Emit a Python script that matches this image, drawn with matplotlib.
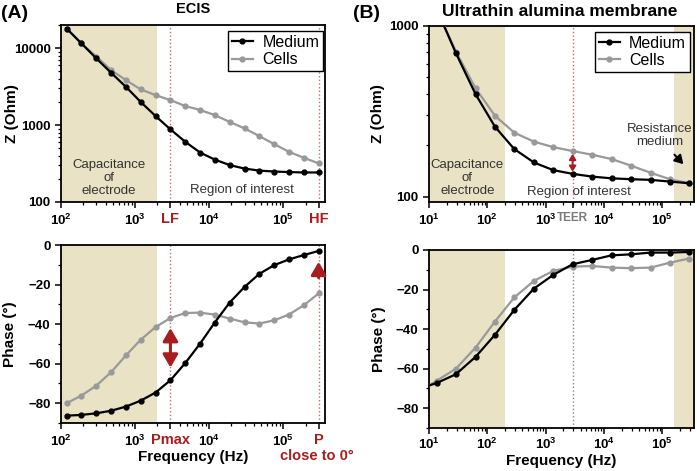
import matplotlib
matplotlib.use('Agg')
import matplotlib.pyplot as plt
from matplotlib.ticker import LogLocator, NullFormatter, MultipleLocator

plt.rcParams['font.family'] = ['Liberation Sans', 'DejaVu Sans']
plt.rcParams['mathtext.fontset'] = 'custom'
plt.rcParams['mathtext.rm'] = 'Liberation Sans:bold'
plt.rcParams['mathtext.bf'] = 'Liberation Sans:bold'

# ---- data: panel A (ECIS) ----
freq_a = [119, 189, 300, 475, 753, 1190, 1890, 3000, 4750, 7530,
          11900, 18900, 30000, 47500, 75300, 119000, 189000, 300000]
z_med_a = [18000, 11500, 7350, 4780, 3140, 2000, 1310, 880, 607, 440,
           356, 302, 272, 256, 249, 245, 242, 242]
z_cell_a = [18000, 11500, 7770, 5180, 3840, 2910, 2450, 2110, 1770, 1570,
            1350, 1100, 906, 720, 566, 450, 376, 318]
ph_med_a = [-86.3, -85.9, -85.1, -83.8, -81.7, -78.7, -74.6, -68.4, -59.7, -49.9,
            -39.2, -29.1, -21.2, -14.6, -10.2, -7.3, -5.1, -3.0]
ph_cell_a = [-80.0, -76.1, -71.1, -64.3, -55.8, -47.9, -41.5, -36.9, -34.4, -34.2,
             -35.2, -37.2, -39.1, -39.7, -38.1, -35.2, -30.5, -24.5]

# ---- data: panel B (ultrathin alumina membrane) ----
freq_b = [6.3, 13.5, 29, 63, 135, 290, 630, 1350, 2900, 6300,
          13500, 29000, 63000, 135000, 290000]
z_med_b = [2300, 1260, 692, 398, 257, 190, 158.5, 143, 136, 131,
           128, 126.5, 125.4, 122.5, 119.8]
z_cell_b = [2300, 1260, 707, 431, 298, 237, 210, 195, 185, 176,
            166, 152, 138, 126.5, 119.8]
ph_med_b = [-70.4, -67.3, -62.8, -54.0, -42.9, -30.3, -19.5, -12.6, -7.2, -5.0,
            -2.7, -2.2, -1.3, -1.3, -1.0]
ph_cell_b = [-72.3, -66.1, -60.0, -49.3, -36.2, -24.0, -15.6, -10.6, -8.4, -8.1,
             -8.9, -9.2, -8.9, -6.4, -4.3]

BEIGE = '#e9e2c4'
RED = '#a81e1e'
DOT = '#c86c6c'
GRAY = '#999999'

W, H = 697, 471
fig = plt.figure(figsize=(W / 100, H / 100), dpi=100)


def box(l, t, r, b):
    return [l / W, 1 - b / H, (r - l) / W, (b - t) / H]


def style(ax):
    for s in ax.spines.values():
        s.set_linewidth(1.3)
    ax.tick_params(which='major', direction='out', length=4, width=1.1, labelsize=9.5)
    ax.tick_params(which='minor', direction='out', length=2.5, width=0.9)
    for lab in ax.get_yticklabels() + ax.get_xticklabels():
        lab.set_fontweight('bold')


def curves(ax, f, y1, y2):
    ax.plot(f, y2, '-o', color=GRAY, lw=1.6, ms=3.5, label='Cells', zorder=3)
    ax.plot(f, y1, '-o', color='black', lw=1.6, ms=3.5, label='Medium', zorder=4)


def xlog(ax, lo, hi, ticks, labels):
    ax.set_xscale('log')
    ax.set_xlim(lo, hi)
    ax.set_xticks(ticks)
    ax.set_xticklabels(labels)
    ax.xaxis.set_minor_locator(LogLocator(base=10, subs=range(2, 10)))
    ax.xaxis.set_minor_formatter(NullFormatter())


def legend(ax, anchor):
    h, l = ax.get_legend_handles_labels()
    leg = ax.legend(h[::-1], l[::-1], loc='upper right', fontsize=11.5, fancybox=False,
                    edgecolor='black', framealpha=1, borderpad=0.25, handlelength=1.3,
                    handletextpad=0.6, labelspacing=0.15, borderaxespad=0,
                    bbox_to_anchor=anchor)
    leg.get_frame().set_linewidth(1.0)


def arrow(ax, start, end, style, color, lw, ms):
    ax.annotate('', xy=end, xytext=start,
                arrowprops=dict(arrowstyle=style, color=color, lw=lw, mutation_scale=ms,
                                shrinkA=0, shrinkB=0))


# ---------- A top ----------
ax = fig.add_axes(box(61, 25, 325, 202))
ax.axvspan(50, 2000, color=BEIGE, lw=0, zorder=0)
ax.axvline(3000, color=DOT, ls=':', lw=1)
ax.axvline(300000, color=DOT, ls=':', lw=1)
curves(ax, freq_a, z_med_a, z_cell_a)
xlog(ax, 100, 3.66e5, [100, 1000, 3000, 1e4, 1e5, 3e5],
     ['$10^2$', '$10^3$', 'LF', '$10^4$', '$10^5$', 'HF'])
ax.set_yscale('log')
ax.set_ylim(100, 20000)
ax.set_yticks([100, 1000, 10000])
ax.set_yticklabels(['100', '1000', '10000'])
ax.yaxis.set_minor_locator(LogLocator(base=10, subs=range(2, 10)))
ax.yaxis.set_minor_formatter(NullFormatter())
ax.set_ylabel('Z (Ohm)', fontsize=11, fontweight='bold')
ax.yaxis.set_label_coords(-0.16, 0.5)
style(ax)
for i in (2, 5):
    ax.get_xticklabels()[i].set_color(RED)
    ax.get_xticklabels()[i].set_fontsize(10.5)
ax.text(0.182, 0.136, 'Capacitance\nof\nelectrode', transform=ax.transAxes,
        ha='center', va='center', fontsize=9.5, color='#333333', linespacing=1.1)
ax.text(0.686, 0.068, 'Region of interest', transform=ax.transAxes,
        ha='center', va='center', fontsize=9.5, color='#333333')
legend(ax, (0.993, 0.966))

# ---------- A bottom ----------
ax = fig.add_axes(box(61, 245, 325, 423))
ax.axvspan(50, 2000, color=BEIGE, lw=0, zorder=0)
ax.axvline(3000, color=DOT, ls=':', lw=1)
ax.axvline(300000, color=DOT, ls=':', lw=1)
curves(ax, freq_a, ph_med_a, ph_cell_a)
xlog(ax, 100, 3.66e5, [100, 1000, 3000, 1e4, 1e5, 3e5],
     ['$10^2$', '$10^3$', 'Pmax', '$10^4$', '$10^5$', 'P'])
ax.set_ylim(-90, 0)
ax.set_yticks([0, -20, -40, -60, -80])
ax.yaxis.set_minor_locator(MultipleLocator(10))
ax.set_ylabel('Phase (°)', fontsize=11, fontweight='bold')
ax.yaxis.set_label_coords(-0.165, 0.5)
ax.set_xlabel('Frequency (Hz)', fontsize=11, fontweight='bold')
ax.xaxis.set_label_coords(0.5, -0.15)
style(ax)
for i in (2, 5):
    ax.get_xticklabels()[i].set_color(RED)
    ax.get_xticklabels()[i].set_fontsize(10.5)
ax.text(0.97, -0.185, 'close to 0°', transform=ax.transAxes, ha='center', va='center',
        fontsize=10.5, fontweight='bold', color=RED)
arrow(ax, (3000, -42), (3000, -62), '<|-|>,head_length=0.6,head_width=0.35', RED, 2.2, 13)
arrow(ax, (300000, -16.5), (300000, -8.5), '-|>,head_length=0.6,head_width=0.35', RED, 2.2, 13)

# ---------- B top ----------
ax = fig.add_axes(box(429, 26, 694, 202))
ax.axvspan(1, 200, color=BEIGE, lw=0, zorder=0)
ax.axvspan(1.62e5, 1e6, color=BEIGE, lw=0, zorder=0)
ax.axvline(2900, color=DOT, ls=':', lw=1)
curves(ax, freq_b, z_med_b, z_cell_b)
xlog(ax, 10, 3.5e5, [10, 100, 1000, 2900, 1e4, 1e5],
     ['$10^1$', '$10^2$', '$10^3$', 'TEER', '$10^4$', '$10^5$'])
ax.set_yscale('log')
ax.set_ylim(93, 1000)
ax.set_yticks([100, 1000])
ax.set_yticklabels(['100', '1000'])
ax.yaxis.set_minor_locator(LogLocator(base=10, subs=range(2, 10)))
ax.yaxis.set_minor_formatter(NullFormatter())
ax.set_ylabel('Z (Ohm)', fontsize=11, fontweight='bold')
ax.yaxis.set_label_coords(-0.166, 0.5)
style(ax)
teer = ax.get_xticklabels()[3]
teer.set_color('#7a7a7a')
teer.set_fontsize(8.5)
ax.text(0.1445, 0.136, 'Capacitance\nof\nelectrode', transform=ax.transAxes,
        ha='center', va='center', fontsize=9.5, color='#333333', linespacing=1.1)
ax.text(0.566, 0.059, 'Region of interest', transform=ax.transAxes,
        ha='center', va='center', fontsize=9.5, color='#333333')
ax.text(0.872, 0.38, 'Resistance\nmedium', transform=ax.transAxes,
        ha='center', va='center', fontsize=9.5, color='#333333', linespacing=1.1)
arrow(ax, (1.62e5, 176), (2.3e5, 155), '-|>,head_length=0.5,head_width=0.3', 'black', 1.5, 10)
arrow(ax, (2900, 178), (2900, 140), '<|-|>,head_length=0.4,head_width=0.25', RED, 1.4, 8)
legend(ax, (0.985, 0.968))

# ---------- B bottom ----------
ax = fig.add_axes(box(429, 250, 694, 428))
ax.axvspan(1, 200, color=BEIGE, lw=0, zorder=0)
ax.axvspan(1.62e5, 1e6, color=BEIGE, lw=0, zorder=0)
ax.axvline(2900, color='#888888', ls=':', lw=1)
curves(ax, freq_b, ph_med_b, ph_cell_b)
xlog(ax, 10, 3.5e5, [10, 100, 1000, 1e4, 1e5],
     ['$10^1$', '$10^2$', '$10^3$', '$10^4$', '$10^5$'])
ax.set_ylim(-90, 0)
ax.set_yticks([0, -20, -40, -60, -80])
ax.yaxis.set_minor_locator(MultipleLocator(10))
ax.set_ylabel('Phase (°)', fontsize=11, fontweight='bold')
ax.yaxis.set_label_coords(-0.162, 0.5)
ax.set_xlabel('Frequency (Hz)', fontsize=11, fontweight='bold')
ax.xaxis.set_label_coords(0.5, -0.145)
style(ax)
ax.tick_params(axis='x', which='major', pad=2)

# ---------- panel titles ----------
fig.text(1 / W, 1 - 14 / H, '(A)', fontsize=14, fontweight='bold', va='center', ha='left')
fig.text(193 / W, 1 - 9 / H, 'ECIS', fontsize=10.5, fontweight='bold', va='center', ha='center')
fig.text(353 / W, 1 - 13 / H, '(B)', fontsize=14, fontweight='bold', va='center', ha='left')
fig.text(560 / W, 1 - 12 / H, 'Ultrathin alumina membrane', fontsize=12.5,
         fontweight='bold', va='center', ha='center')

fig.savefig('out.png', dpi=100)
